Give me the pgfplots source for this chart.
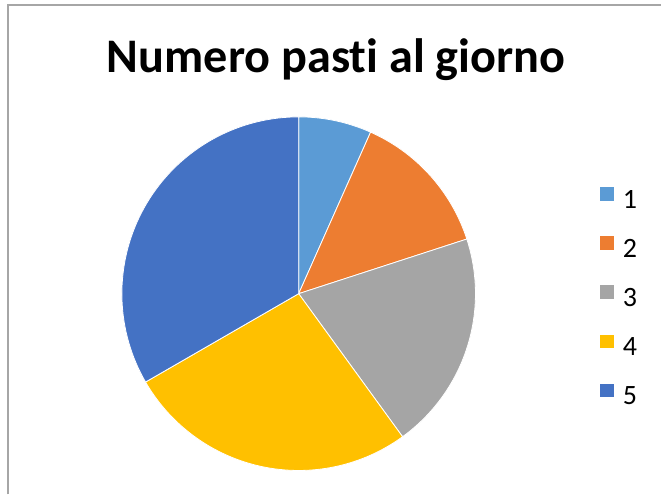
\documentclass[border=0pt]{standalone}
\usepackage{pgfplots}
\pgfplotsset{compat=1.18}
\usepackage{pgfplotstable}
\usepackage{fontspec}
\setmainfont{Carlito}[Ligatures=NoCommon]
\definecolor{c1}{HTML}{5B9BD5}
\definecolor{c2}{HTML}{ED7D31}
\definecolor{c3}{HTML}{A5A5A5}
\definecolor{c4}{HTML}{FFC000}
\definecolor{c5}{HTML}{4472C4}
\definecolor{framec}{HTML}{A6A6A6}
\newcommand{\lf}{\fontsize{21}{24}\selectfont}
\pgfplotstableread{
cat val
1 1
2 2
3 3
4 4
5 5
}\pietable
\begin{document}
\begin{tikzpicture}[x=0.75pt,y=0.75pt]
\pgfplotstablegetelem{0}{val}\of\pietable \edef\vA{\pgfplotsretval}
\pgfplotstablegetelem{1}{val}\of\pietable \edef\vB{\pgfplotsretval}
\pgfplotstablegetelem{2}{val}\of\pietable \edef\vC{\pgfplotsretval}
\pgfplotstablegetelem{3}{val}\of\pietable \edef\vD{\pgfplotsretval}
\pgfplotstablegetelem{4}{val}\of\pietable \edef\vE{\pgfplotsretval}
\pgfmathsetmacro\tot{\vA+\vB+\vC+\vD+\vE}
\pgfmathsetmacro\aA{90}
\pgfmathsetmacro\aB{\aA-360*\vA/\tot}
\pgfmathsetmacro\aC{\aB-360*\vB/\tot}
\pgfmathsetmacro\aD{\aC-360*\vC/\tot}
\pgfmathsetmacro\aE{\aD-360*\vD/\tot}
\pgfmathsetmacro\aF{\aE-360*\vE/\tot}
\path[fill=white] (0,0) rectangle (662,495);
\draw[framec, line width=1.1pt] (8,0) -- (8,490) -- (662,490);
\node[anchor=base, font=\fontsize{36.2}{42}\selectfont\bfseries] at (336.5,422.5) {Numero pasti al giorno};
\begin{axis}[
  at={(0,0)}, anchor=origin,
  x=0.75pt, y=0.75pt,
  xmin=0, xmax=662, ymin=0, ymax=495,
  hide axis, clip=false,
  legend cell align=left,
  legend image code/.code={\fill[#1] (0pt,-0.2pt) rectangle (11.25pt,10.9pt); \path (17pt,0pt);},
  legend style={draw=none, fill=none, inner sep=0pt, outer sep=0pt,
    at={(600/662,308.5/495)}, anchor=north west,
    row sep=20.4pt, font=\lf,
    nodes={inner sep=0pt, text height=10.5pt, text depth=0pt}},
]
\addplot[fill=c1, draw=white, line width=0.6pt, domain=\aB:\aA, samples=40, variable=\t]
  ({299+177*cos(\t)},{201+177*sin(\t)}) -- (axis cs:299,201) -- cycle;
\addlegendentry{1}
\addplot[fill=c2, draw=white, line width=0.6pt, domain=\aC:\aB, samples=40, variable=\t]
  ({299+177*cos(\t)},{201+177*sin(\t)}) -- (axis cs:299,201) -- cycle;
\addlegendentry{2}
\addplot[fill=c3, draw=white, line width=0.6pt, domain=\aD:\aC, samples=50, variable=\t]
  ({299+177*cos(\t)},{201+177*sin(\t)}) -- (axis cs:299,201) -- cycle;
\addlegendentry{3}
\addplot[fill=c4, draw=white, line width=0.6pt, domain=\aE:\aD, samples=60, variable=\t]
  ({299+177*cos(\t)},{201+177*sin(\t)}) -- (axis cs:299,201) -- cycle;
\addlegendentry{4}
\addplot[fill=c5, draw=white, line width=0.6pt, domain=\aF:\aE, samples=70, variable=\t]
  ({299+177*cos(\t)},{201+177*sin(\t)}) -- (axis cs:299,201) -- cycle;
\addlegendentry{5}
\end{axis}
\end{tikzpicture}
\end{document}
